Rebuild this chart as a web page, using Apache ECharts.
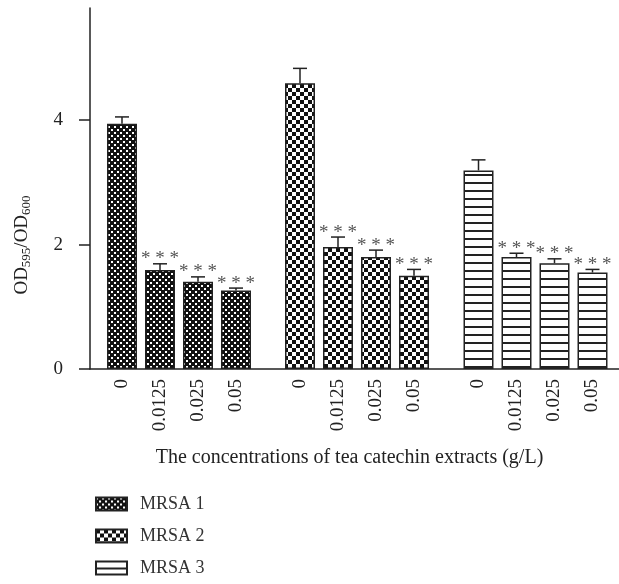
<!DOCTYPE html>
<html>
<head>
<meta charset="utf-8">
<script src="https://cdn.jsdelivr.net/npm/echarts@6/dist/echarts.min.js"></script>
<style>
  html, body { margin: 0; padding: 0; background: #fff; }
  #chart { width: 619px; height: 584px; }
</style>
</head>
<body>
<div id="chart"></div>
<script>
// data
const categories = ['0', '0.0125', '0.025', '0.05'];
const mrsa1 = [3.94, 1.59, 1.40, 1.26];
const mrsa1Err = [0.11, 0.10, 0.08, 0.04];
const mrsa2 = [4.59, 1.96, 1.80, 1.50];
const mrsa2Err = [0.24, 0.16, 0.11, 0.10];
const mrsa3 = [3.19, 1.80, 1.70, 1.55];
const mrsa3Err = [0.17, 0.06, 0.07, 0.05];
const sigMarks = ['', '***', '***', '***'];
const yTicks = [0, 2, 4];

const FONT = '"Liberation Serif", "DejaVu Serif", serif';
const INK = '#222';

// fill patterns
function makePattern(w, h, draw) {
  const c = document.createElement('canvas');
  c.width = w;
  c.height = h;
  draw(c.getContext('2d'));
  return { image: c, repeat: 'repeat' };
}
const fine = makePattern(6, 6, (ctx) => {
  ctx.fillStyle = '#111';
  ctx.fillRect(0, 0, 6, 6);
  ctx.fillStyle = '#fff';
  ctx.fillRect(0, 0, 2, 2);
  ctx.fillRect(3, 3, 2, 2);
});
const checker = makePattern(8, 8, (ctx) => {
  ctx.fillStyle = '#fff';
  ctx.fillRect(0, 0, 8, 8);
  ctx.fillStyle = '#111';
  ctx.fillRect(0, 0, 4, 4);
  ctx.fillRect(4, 4, 4, 4);
});
const stripes = makePattern(8, 8, (ctx) => {
  ctx.fillStyle = '#fff';
  ctx.fillRect(0, 0, 8, 8);
  ctx.fillStyle = INK;
  ctx.fillRect(0, 6, 8, 2);
});

const groups = [
  { name: 'MRSA 1', values: mrsa1, err: mrsa1Err, fill: fine, left: 103 },
  { name: 'MRSA 2', values: mrsa2, err: mrsa2Err, fill: checker, left: 281 },
  { name: 'MRSA 3', values: mrsa3, err: mrsa3Err, fill: stripes, left: 459.5 }
];

const TOP = 8, BOTTOM = 215, YMAX = 5.8;

const grid = [{ left: 90, right: 0, top: TOP, bottom: BOTTOM }];
const xAxis = [{
  gridIndex: 0, type: 'value', min: 0, max: 1,
  axisLine: { show: true, lineStyle: { color: INK, width: 1.5 } },
  axisTick: { show: false }, axisLabel: { show: false }, splitLine: { show: false },
  name: 'The concentrations of tea catechin extracts (g/L)',
  nameLocation: 'middle', nameGap: 79,
  nameTextStyle: { fontFamily: FONT, fontSize: 20, color: INK, padding: [0, 10, 0, 0] }
}];
const yAxis = [{
  gridIndex: 0, type: 'value', min: 0, max: YMAX,
  axisLine: { show: true, lineStyle: { color: INK, width: 1.5 } },
  axisTick: { show: true, inside: false, length: 11, customValues: yTicks, lineStyle: { color: INK, width: 1.5 } },
  axisLabel: { customValues: yTicks, margin: 27, fontFamily: FONT, fontSize: 19, color: INK },
  splitLine: { show: false }
}];
const series = [];

groups.forEach((g, i) => {
  const gi = i + 1;
  grid.push({ left: g.left, width: 152, top: TOP, bottom: BOTTOM });
  xAxis.push({
    gridIndex: gi, type: 'category', data: categories,
    axisLine: { show: false }, axisTick: { show: false },
    axisLabel: { rotate: 90, margin: 10, fontFamily: FONT, fontSize: 19, color: INK, interval: 0 }
  });
  yAxis.push({ gridIndex: gi, type: 'value', min: 0, max: YMAX, show: false });
  series.push({
    name: g.name, type: 'bar', xAxisIndex: gi, yAxisIndex: gi,
    data: g.values, barWidth: 30,
    itemStyle: { color: g.fill, borderColor: INK, borderWidth: 1.5 },
    emphasis: { disabled: true }, animation: false
  });
  series.push({
    name: g.name + ' err', type: 'custom', xAxisIndex: gi, yAxisIndex: gi,
    data: g.values.map((v, k) => [k, v, v + g.err[k]]),
    z: 3, animation: false, silent: true,
    renderItem: (params, api) => {
      const base = api.coord([api.value(0), api.value(1)]);
      const top = api.coord([api.value(0), api.value(2)]);
      const children = [
        { type: 'line', shape: { x1: base[0], y1: base[1], x2: top[0], y2: top[1] }, style: { stroke: INK, lineWidth: 1.5 } },
        { type: 'line', shape: { x1: top[0] - 7, y1: top[1], x2: top[0] + 7, y2: top[1] }, style: { stroke: INK, lineWidth: 1.5 } }
      ];
      const mark = sigMarks[params.dataIndex];
      if (mark) {
        children.push({
          type: 'text',
          style: {
            text: mark.split('').join(' '), x: top[0], y: top[1] + 5,
            align: 'center', verticalAlign: 'bottom',
            fill: '#555', font: '19px ' + FONT
          }
        });
      }
      return { type: 'group', children };
    }
  });
});

const chart = echarts.init(document.getElementById('chart'));
chart.setOption({
  backgroundColor: '#fff',
  animation: false,
  grid, xAxis, yAxis, series,
  graphic: [{
    type: 'text', x: 22, y: 245, rotation: Math.PI / 2,
    style: {
      text: '{a|OD}{s|595}{a|/OD}{s|600}',
      align: 'center', verticalAlign: 'middle',
      rich: {
        a: { fontFamily: FONT, fontSize: 19, fill: INK, lineHeight: 22 },
        s: { fontFamily: FONT, fontSize: 13, fill: INK, lineHeight: 22, padding: [9, 0, 0, 0] }
      }
    }
  }],
  legend: {
    data: groups.map((g) => g.name),
    orient: 'vertical', left: 95, top: 495, padding: 0,
    itemWidth: 31, itemHeight: 13, itemGap: 14,
    icon: 'rect',
    textStyle: { fontFamily: FONT, fontSize: 18, color: '#333', padding: [0, 0, 0, 8] },
    selectedMode: false
  }
});
</script>
</body>
</html>
